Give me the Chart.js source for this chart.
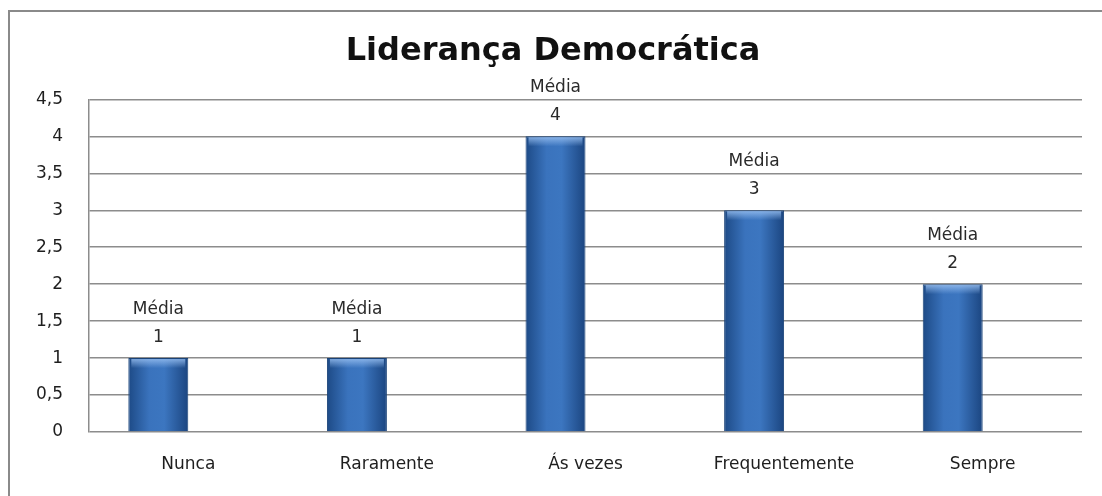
<!DOCTYPE html>
<html>
<head>
<meta charset="utf-8">
<script src="https://cdn.jsdelivr.net/npm/chart.js@4"></script>
<style>
  html, body { margin: 0; padding: 0; background: #fff; }
  #wrap { width: 1102px; height: 496px; }
</style>
</head>
<body>
<div id="wrap"><canvas id="chart" width="1102" height="496"></canvas></div>
<script>
/* ================= DATA ================= */
const chartTitle = "Liderança Democrática";
const categories = ["Nunca", "Raramente", "Ás vezes", "Frequentemente", "Sempre"];
const medias = [1, 1, 4, 3, 2];
const labelPrefix = "Média";
const yMax = 4.5;
const yStep = 0.5;

const FONT = "'DejaVu Sans', 'Open Sans', sans-serif";

/* ================= BAR GRADIENT ================= */
function barFill(ctx) {
    const chart = ctx.chart;
    const x = chart.scales.x;
    if (!x || !chart.chartArea) return "#2f66ad";
    const slot = (x.width / categories.length) * 0.604 / 2;
    const c = x.getPixelForValue(ctx.dataIndex);
    const g = chart.ctx.createLinearGradient(c - slot, 0, c, 0);
    g.addColorStop(0, "#1d4a86");
    g.addColorStop(0.35, "#3a73bd");
    g.addColorStop(0.6, "#3c76c0");
    g.addColorStop(1, "#1b4580");
    return g;
}

/* ================= PLUGINS ================= */
// outer frame: only left and top edges are inside the picture
const frame = {
    id: "frame",
    beforeDraw(chart) {
        const c = chart.ctx;
        c.save();
        c.strokeStyle = "#8a8a8a";
        c.lineWidth = 2;
        c.beginPath();
        c.moveTo(9, 600);
        c.lineTo(9, 11);
        c.lineTo(1200, 11);
        c.stroke();
        c.restore();
    }
};

const barLabels = {
    id: "barLabels",
    afterDatasetsDraw(chart) {
        const c = chart.ctx;
        const meta = chart.getDatasetMeta(0);
        c.save();
        c.font = "17px " + FONT;
        c.textAlign = "center";
        c.textBaseline = "middle";
        meta.data.forEach((bar, i) => {
            // top bevel highlight
            const w = bar.width;
            const hl = c.createLinearGradient(0, bar.y, 0, bar.y + 10);
            hl.addColorStop(0, "rgba(150,190,240,0.9)");
            hl.addColorStop(1, "rgba(150,190,240,0)");
            c.fillStyle = hl;
            c.fillRect(bar.x - w / 2 + 3, bar.y + 1, w - 6, 9);

            c.fillStyle = "#2a2a2a";
            c.fillText(labelPrefix, bar.x, bar.y - 49);
            c.fillText(String(medias[i]).replace(".", ","), bar.x, bar.y - 21);
        });
        c.restore();
    }
};

/* ================= CHART ================= */
new Chart(document.getElementById("chart"), {
    type: "bar",
    data: {
        labels: categories,
        datasets: [
            {
                data: medias,
                backgroundColor: barFill,
                borderColor: "#1a4378",
                borderWidth: 1,
                borderSkipped: "bottom",
                barPercentage: 1,
                categoryPercentage: 0.604
            },
            {
                data: categories.map(() => null),
                barPercentage: 1,
                categoryPercentage: 0.604
            }
        ]
    },
    options: {
        responsive: false,
        animation: false,
        layout: { padding: { left: 24, right: 20, top: 0, bottom: 0 } },
        plugins: {
            legend: { display: false },
            tooltip: { enabled: false },
            title: {
                display: true,
                text: chartTitle,
                color: "#111",
                font: { family: FONT, size: 32, weight: "bold" },
                padding: { top: 32, bottom: 29 }
            }
        },
        scales: {
            x: {
                grid: { display: false, drawTicks: false },
                border: { display: false },
                ticks: {
                    color: "#1e1e1e",
                    font: { family: FONT, size: 17 },
                    padding: 22,
                    maxRotation: 0
                },
                afterFit(s) { s.height = 64; }
            },
            y: {
                min: 0,
                max: yMax,
                grid: { color: "#8c8c8c", lineWidth: 1.5, drawTicks: false },
                border: { color: "#8c8c8c", width: 1.5 },
                ticks: {
                    stepSize: yStep,
                    color: "#1e1e1e",
                    font: { family: FONT, size: 17 },
                    padding: 26,
                    callback: v => String(v).replace(".", ",")
                },
                afterFit(s) { s.width = 65; }
            }
        }
    },
    plugins: [frame, barLabels]
});
</script>
</body>
</html>
